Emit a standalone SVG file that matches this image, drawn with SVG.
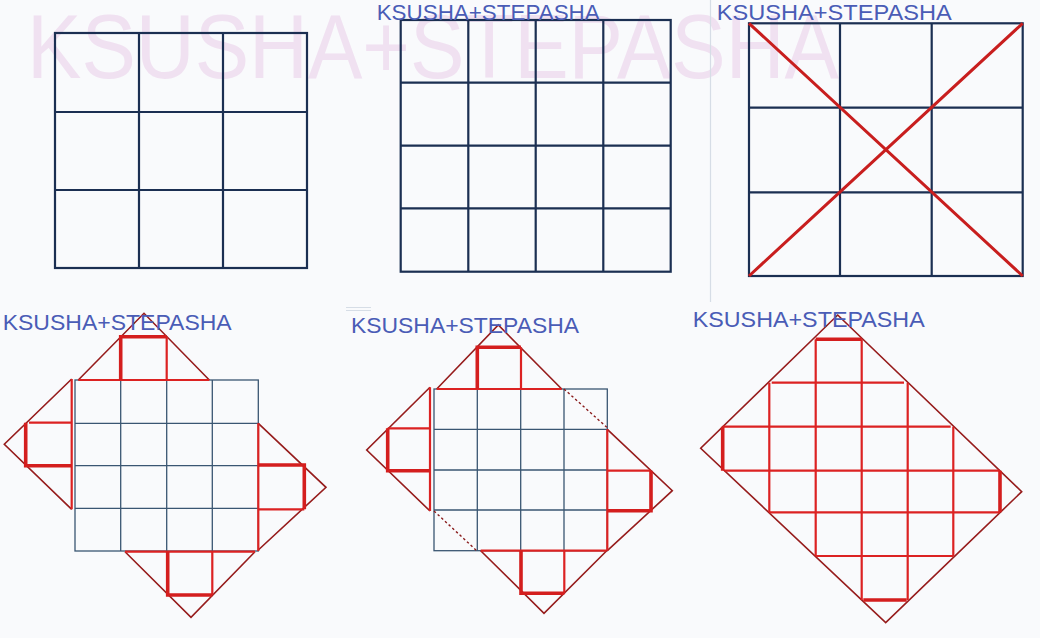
<svg xmlns="http://www.w3.org/2000/svg" width="1040" height="638" viewBox="0 0 1040 638">
<style>
.wm{font-family:"Liberation Sans",Arial,sans-serif;font-size:90px;fill:#f0e1f1}
.lbl{font-family:"Liberation Sans",Arial,sans-serif;font-size:22px;fill:#4a5cb6}
.gA{fill:none;stroke:#1b2f52;stroke-width:2.2}
.gB{fill:none;stroke:#3a5672;stroke-width:1.3}
.r{fill:none;stroke:#dc2222;stroke-width:2.2}
.rt{fill:none;stroke:#d41e1e;stroke-width:3.6}
.d{fill:none;stroke:#961c1c;stroke-width:1.6;stroke-linejoin:miter}
.x{fill:none;stroke:#c81e1e;stroke-width:3}
.ds{fill:none;stroke:#8a1c1c;stroke-width:1.4;stroke-dasharray:2.5 2.5}
.faint{fill:none;stroke:#d6dde6;stroke-width:1.2}
</style>
<rect x="0" y="0" width="1040" height="638" fill="#f9fafc"/>
<g id="watermark">
<text class="wm" x="27" y="78" textLength="812" lengthAdjust="spacingAndGlyphs">KSUSHA+STEPASHA</text>
</g>
<line class="faint" x1="710.5" y1="0" x2="710.5" y2="302"/>
<path class="faint" d="M346 307.5H371M346 310.5H371"/>

<g id="panel1">
<rect class="gA" x="55" y="33" width="252" height="235"/>
<path class="gA" d="M139 33V268M223 33V268M55 112H307M55 190H307"/>
</g>

<g id="panel2">
<rect class="gA" x="400.7" y="20" width="270" height="251.7"/>
<path class="gA" d="M468.3 20V271.7M535.7 20V271.7M603.3 20V271.7M400.7 82.7H670.7M400.7 145.7H670.7M400.7 208.3H670.7"/>
<text class="lbl" x="376.7" y="19.5" textLength="223" lengthAdjust="spacingAndGlyphs">KSUSHA+STEPASHA</text>
</g>

<g id="panel3">
<rect class="gA" x="749" y="23.3" width="273.7" height="252.7"/>
<path class="gA" d="M840 23.3V276M931.7 23.3V276M749 107.7H1022.7M749 192.3H1022.7"/>
<path class="x" d="M749 23.3L1022.7 276M749 276L1022.7 23.3"/>
<text class="lbl" x="716.7" y="20" textLength="235" lengthAdjust="spacingAndGlyphs">KSUSHA+STEPASHA</text>
</g>

<g id="panel4">
<rect class="gB" x="75" y="380" width="183.3" height="171"/>
<path class="gB" d="M120.7 380V551M166.7 380V551M212.3 380V551M75 423.3H258.3M75 465.7H258.3M75 508.3H258.3"/>
<g id="p4-top">
<path class="d" d="M78.3 380L144 313.3L209.3 380"/>
<path class="r" d="M78.3 380H209.3M166.7 336.7V380"/>
<path class="rt" d="M120.7 380V336.7H166.7"/>
</g>
<g id="p4-left">
<path class="d" d="M71.7 379L4.3 444.3L71.7 509.3"/>
<path class="r" d="M71.7 379V509.3M29 422.7H71.7"/>
<path class="rt" d="M25.7 422.7V465.7H71.7"/>
</g>
<g id="p4-right">
<path class="d" d="M258.3 423.3L326 487.3L258.3 550"/>
<path class="r" d="M258.3 423.3V551M258.3 509.3H304.3"/>
<path class="rt" d="M258.3 465H304.3V509.3"/>
</g>
<g id="p4-bottom">
<path class="d" d="M125 551.7L191 617.3L255 551.7"/>
<path class="r" d="M125 551.7H255M212.3 551.7V595"/>
<path class="rt" d="M167.7 551.7V595H212.3"/>
</g>
<text class="lbl" x="2.7" y="330" textLength="229" lengthAdjust="spacingAndGlyphs">KSUSHA+STEPASHA</text>
</g>

<g id="panel5">
<rect class="gB" x="434" y="389" width="173.3" height="161.7"/>
<path class="gB" d="M477.3 389V550.7M520.7 389V550.7M564 389V550.7M434 429.3H607.3M434 470H607.3M434 510H607.3"/>
<g id="p5-top">
<path class="d" d="M436.7 389L498.3 325L561.7 389"/>
<path class="r" d="M436.7 389H561.7M521 347.3V389"/>
<path class="rt" d="M477.3 389V347.3H521"/>
</g>
<g id="p5-left">
<path class="d" d="M430 387.3L366.7 450L430 511"/>
<path class="r" d="M430 387.3V511M387.7 428.3H430"/>
<path class="rt" d="M387.7 428.3V470.7H430"/>
</g>
<g id="p5-right">
<path class="d" d="M607.3 429.3L672.3 490.7L607.3 550.7"/>
<path class="r" d="M607.3 429.3V550.7M607.3 470.7H651"/>
<path class="rt" d="M651 470.7V510.7H607.3"/>
</g>
<g id="p5-bottom">
<path class="d" d="M480.7 550.7L544 613.3L606.7 550.7"/>
<path class="r" d="M480.7 550.7H606.7M564.3 550.7V593.3"/>
<path class="rt" d="M521 550.7V593.3H564.3"/>
</g>
<path class="ds" d="M564 389L607.3 427.7M434 511L476.7 550.7"/>
<text class="lbl" x="351" y="333.3" textLength="228" lengthAdjust="spacingAndGlyphs">KSUSHA+STEPASHA</text>
</g>

<g id="panel6">
<path class="d" d="M837.7 315L1021.7 491.7L885.7 622.7L700.7 448.3Z"/>
<path class="r" d="M771.7 382.7H904M722.7 426.7H950.7M724.3 470.7H1000M769.3 512.3H1000M815.7 556H953.3M769.3 382.7V512.3M815.7 339.3V556M861.7 339.3V600M907.7 382.7V600M953.3 426.7V556"/>
<path class="rt" d="M815.7 339.3H861.7M863.3 600H906.7M722.7 426.7V470.7M1000 470.7V512.3"/>
<text class="lbl" x="692.7" y="327.3" textLength="232" lengthAdjust="spacingAndGlyphs">KSUSHA+STEPASHA</text>
</g>
</svg>
